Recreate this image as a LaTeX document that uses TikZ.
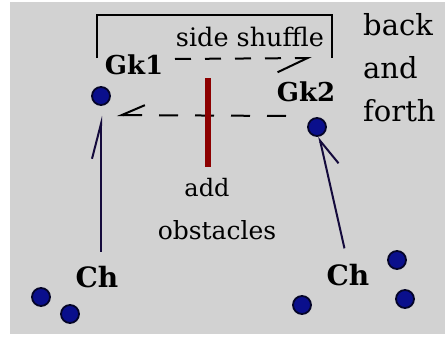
\documentclass[tikz,border=0pt]{standalone}
\usepackage{fontspec}
\setmainfont{DejaVu Serif}
\usetikzlibrary{arrows.meta}
\definecolor{bg}{RGB}{210,210,210}
\definecolor{dotblue}{RGB}{10,15,140}
\definecolor{dotedge}{RGB}{5,5,40}
\definecolor{conncol}{RGB}{20,10,60}
\definecolor{barred}{RGB}{140,0,0}
\tikzset{
  player/.style={circle, fill=dotblue, draw=dotedge, line width=1.8pt, minimum size=18pt, inner sep=0pt},
  lbl/.style={inner sep=0pt, text=black},
  conn/.style={draw=conncol, line width=2pt},
  dashconn/.style={draw=black, line width=2pt}
}
\begin{document}
\begin{tikzpicture}[x=1pt,y=-1pt]
\useasboundingbox (0,0) rectangle (445,340);
\fill[white] (0,0) rectangle (445,340);
\fill[bg] (10,2) rectangle (445,334);
% bracket
\draw[black, line width=2pt] (97,58) -- (97,15) -- (332,15) -- (332,58);
% texts
\node[lbl, font=\fontsize{25.5}{30}\selectfont] (side) at (250,36.5) {side shuffle};
\node[lbl, font=\bfseries\fontsize{26}{30}\selectfont] (gk1) at (134,65) {Gk1};
\node[lbl, font=\bfseries\fontsize{26}{30}\selectfont] (gk2) at (306,92) {Gk2};
\node[lbl, anchor=base west, font=\fontsize{29}{34}\selectfont] (back) at (363,35) {back};
\node[lbl, anchor=base west, font=\fontsize{29}{34}\selectfont] (and) at (363,78) {and};
\node[lbl, anchor=base west, font=\fontsize{29}{34}\selectfont] (forth) at (363,121) {forth};
\node[lbl, font=\fontsize{24}{28}\selectfont] (add) at (207,187.5) {add};
\node[lbl, font=\fontsize{25}{30}\selectfont] (obst) at (217,230) {obstacles};
\node[lbl, font=\bfseries\fontsize{28}{32}\selectfont] (ch1) at (97,277) {Ch};
\node[lbl, font=\bfseries\fontsize{28}{32}\selectfont] (ch2) at (348,275) {Ch};
% players
\node[player] (gk1dot) at (101,96) {};
\node[player] (gk2dot) at (317,127) {};
\node[player] (p1) at (41,297) {};
\node[player] (p2) at (70,314) {};
\node[player] (p3) at (302,305) {};
\node[player] (p4) at (397,260) {};
\node[player] (p5) at (405,299) {};
% dashed shuffle arrows
\coordinate (ssA) at (175,59);
\coordinate (ssB) at (312,58);
\coordinate (lsA) at (286,116);
\coordinate (lsB) at (117,115);
\draw[dashconn, dash pattern=on 16pt off 14pt, -{Straight Barb[harpoon, swap, length=30pt, width=28pt]}] (ssA) -- (ssB);
\draw[dashconn, dash pattern=on 19pt off 17pt, -{Straight Barb[harpoon, swap, length=23pt, width=20pt]}] (lsA) -- (lsB);
% obstacle bar
\draw[barred, line width=6pt] (208,78) -- (208,167);
% runs
\draw[conn, shorten <=14pt, shorten >=10pt, -{Straight Barb[harpoon, length=35pt, width=18pt]}] (ch1.north -| gk1dot.south) -- (gk1dot.south);
\draw[conn, shorten <=16pt, -{Straight Barb[harpoon, swap, length=26pt, width=26pt]}] (ch2.north) -- (gk2dot);
\end{tikzpicture}
\end{document}
